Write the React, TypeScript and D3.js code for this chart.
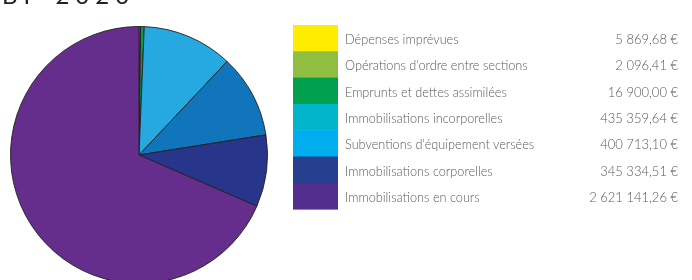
import { useEffect, useRef } from 'react';
import * as d3 from 'd3';

const title = 'BP 2020';
const categories = [
  'Dépenses imprévues',
  "Opérations d'ordre entre sections",
  'Emprunts et dettes assimilées',
  'Immobilisations incorporelles',
  "Subventions d'équipement versées",
  'Immobilisations corporelles',
  'Immobilisations en cours',
];
const amounts = [5869.68, 2096.41, 16900.0, 435359.64, 400713.1, 345334.51, 2621141.26];
const legendColors = ['#ffed00', '#8fbe40', '#00a04f', '#00b4c9', '#00aeef', '#263f8e', '#532e8f'];
const sliceColors = ['#ffed00', '#8fbe40', '#0f9a48', '#25a9e0', '#1075bb', '#27358b', '#652d8c'];

export default function App() {
  const ref = useRef<SVGSVGElement>(null);

  useEffect(() => {
    const svg = d3.select(ref.current);
    svg.selectAll('*').remove();

    const width = 692;
    const height = 280;
    svg.attr('width', width).attr('height', height).attr('viewBox', `0 0 ${width} ${height}`);

    const fr = d3.formatLocale({
      decimal: ',',
      thousands: '\u00a0',
      grouping: [3],
      currency: ['', '\u00a0€'],
    });
    const money = fr.format('$,.2f');

    // Title, mostly cut off at the top (as in the page it was taken from)
    svg.append('text')
      .attr('x', 2)
      .attr('y', 4)
      .attr('font-family', 'Lato, sans-serif')
      .attr('font-size', 24)
      .attr('letter-spacing', 6)
      .attr('fill', '#222')
      .text(title);

    // Pie
    const cx = 139;
    const cy = 155;
    const r = 128.5;
    const data = categories.map((c, i) => ({ name: c, value: amounts[i], color: sliceColors[i] }));
    const pie = d3.pie<{ name: string; value: number; color: string }>()
      .value(d => d.value)
      .sort(null);
    const arc = d3.arc<d3.PieArcDatum<{ name: string; value: number; color: string }>>()
      .innerRadius(0)
      .outerRadius(r);

    const g = svg.append('g').attr('transform', `translate(${cx},${cy})`);
    g.selectAll('path')
      .data(pie(data))
      .join('path')
      .attr('d', arc)
      .attr('fill', d => d.data.color)
      .attr('stroke', '#231f20')
      .attr('stroke-width', 0.9)
      .attr('stroke-linejoin', 'round');

    // Legend
    const legendX = 293;
    const rowH = 26.3;
    const y = d3.scaleBand<number>()
      .domain(d3.range(categories.length))
      .range([25, 25 + rowH * categories.length]);

    const lg = svg.append('g');
    const rows = lg.selectAll('g')
      .data(categories)
      .join('g')
      .attr('transform', (_, i) => `translate(0,${y(i)})`);

    rows.append('rect')
      .attr('x', legendX)
      .attr('y', 0)
      .attr('width', 45)
      .attr('height', y.bandwidth() + 0.5)
      .attr('fill', (_, i) => legendColors[i]);

    rows.append('text')
      .attr('x', 345)
      .attr('y', y.bandwidth() / 2 + 6)
      .attr('font-family', 'Lato, sans-serif')
      .attr('font-weight', 300)
      .attr('font-size', 12.7)
      .attr('fill', '#5a5a5a')
      .text(d => d);

    rows.append('text')
      .attr('x', 678)
      .attr('y', y.bandwidth() / 2 + 6)
      .attr('text-anchor', 'end')
      .attr('font-family', 'Lato, sans-serif')
      .attr('font-weight', 300)
      .attr('font-size', 13)
      .attr('fill', '#5a5a5a')
      .text((_, i) => money(amounts[i]));
  }, []);

  return (
    <div style={{ position: 'fixed', left: 0, top: 0 }}>
      <svg ref={ref} style={{ display: 'block' }} />
    </div>
  );
}
